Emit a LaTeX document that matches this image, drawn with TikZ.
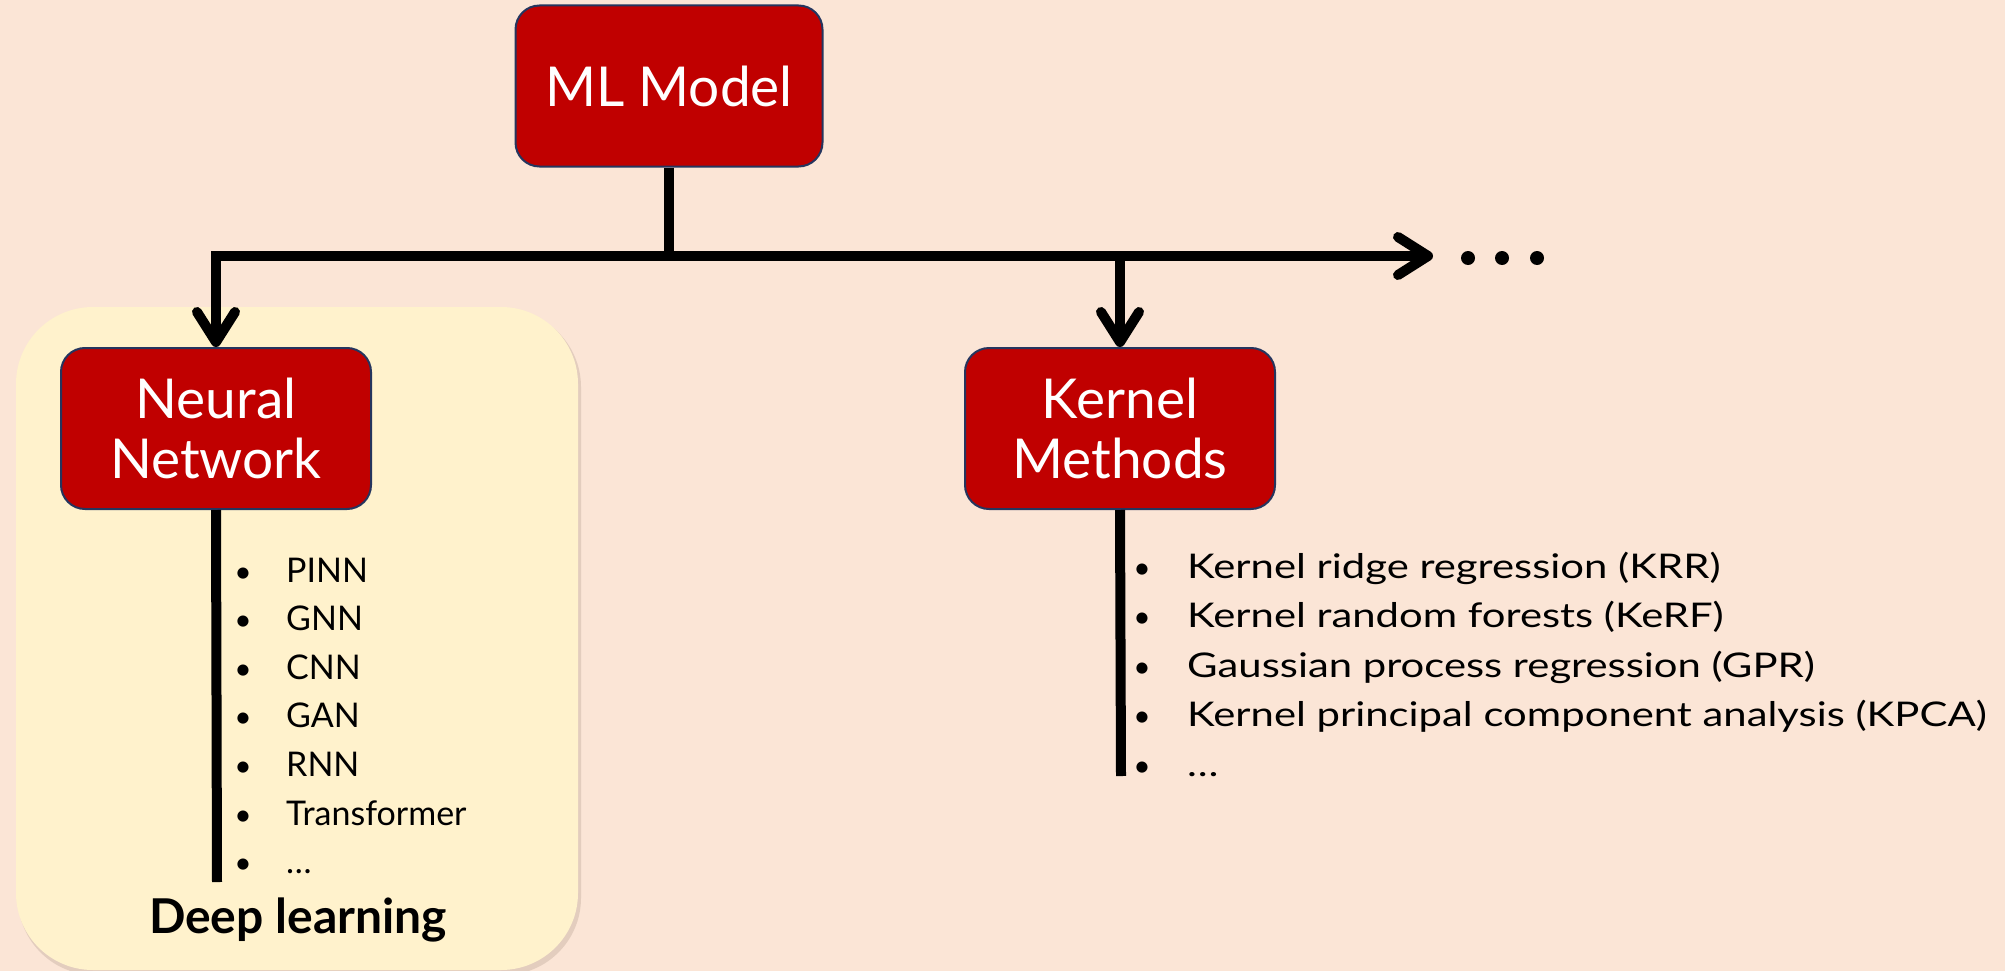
\documentclass[tikz,border=0pt]{standalone}
\usepackage{fontspec}
\setmainfont{Lato}
\newfontfamily\widelato[FakeStretch=1.23]{Lato}
\usetikzlibrary{arrows.meta}
\definecolor{bgpeach}{HTML}{FBE5D6}
\definecolor{dlyellow}{HTML}{FFF2CC}
\definecolor{dlshadow}{HTML}{E3CDBE}
\definecolor{boxred}{HTML}{C00000}
\definecolor{boxedge}{HTML}{25355E}
\begin{document}
\begin{tikzpicture}[x=1pt,y=-1pt,
  mlbox/.style={draw=boxedge, line width=2pt, fill=boxred, rounded corners=24pt,
    text=white, align=center, inner sep=0pt,
    font=\fontsize{55}{60}\selectfont},
  conn/.style={line width=10pt, black},
  barb/.tip={Straight Barb[length=30pt,width=38pt,round]},
  nntext/.style={anchor=base west, inner sep=0pt, font=\fontsize{34}{40}\selectfont},
  kmtext/.style={anchor=base west, inner sep=0pt, font=\widelato\fontsize{34}{40}\selectfont},
  bul/.style={anchor=base, inner sep=0pt, font=\fontsize{30}{36}\selectfont},
]
\useasboundingbox (0,0) rectangle (2005,971);
\fill[bgpeach] (0,0) rectangle (2005,971);
% deep learning region
\fill[dlshadow, rounded corners=77pt] (18,310) rectangle (581,975);
\fill[dlyellow, rounded corners=77pt] (16,307) rectangle (578,970);

% boxes
\node[mlbox, minimum width=307pt, minimum height=161pt] (ml) at (669,86) {ML Model};
\node[mlbox, minimum width=310pt, minimum height=161pt] (nn) at (216,428.5) {Neural\\Network};
\node[mlbox, minimum width=310pt, minimum height=161pt] (km) at (1120,428.5) {Kernel\\Methods};

% connectors
\coordinate (hl) at (217,256);
\coordinate (hr) at (1433,256);
\draw[conn, {barb}-{barb}] (nn.north) |- (hr);
\draw[conn] (ml.south) -- (ml.south |- hl);
\draw[conn, -{barb}] (km.north |- hl) -- (km.north);

% dots
\fill (1468,258) circle (7pt);
\fill (1502,258) circle (7pt);
\fill (1537,258) circle (7pt);

% stems
\coordinate (nnend) at (217,882);
\coordinate (kmend) at (1121,776);
\draw[conn] (nn.south) -- (nnend);
\draw[conn] (km.south) -- (kmend);

% neural network list
\foreach \t [count=\i] in {PINN,GNN,CNN,GAN,RNN,Transformer,…}{
  \node[bul] (nb\i) at (243,{582+48.6*(\i-1)}) {\textbullet};
  \node[nntext] (nt\i) at (286,{582+48.6*(\i-1)}) {\t};
}
% kernel list
\foreach \t [count=\i] in {Kernel ridge regression (KRR),Kernel random forests (KeRF),Gaussian process regression (GPR),Kernel principal component analysis (KPCA),…}{
  \node[bul] (kb\i) at (1142,{578+49.5*(\i-1)}) {\textbullet};
  \node[kmtext] (kt\i) at (1187,{578+49.5*(\i-1)}) {\t};
}

\node[font=\bfseries\fontsize{48}{52}\selectfont, inner sep=0pt] (dl) at (298,920) {Deep learning};
\end{tikzpicture}
\end{document}
